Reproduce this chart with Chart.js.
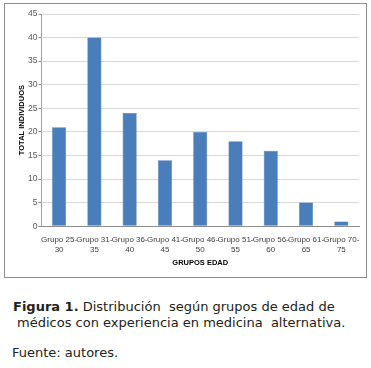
<!DOCTYPE html>
<html>
<head>
<meta charset="utf-8">
<script src="https://cdn.jsdelivr.net/npm/chart.js@4/dist/chart.umd.min.js"></script>
<style>
  body { margin: 0; background: #fff; width: 371px; height: 368px; position: relative; overflow: hidden; }
  #caja { position: absolute; left: 4px; top: 3px; width: 361px; height: 273px; border: 1px solid #8c8c8c; }
  .pie { position: absolute; font-family: "DejaVu Sans", Verdana, sans-serif; font-size: 13px; line-height: 15px; color: #222; white-space: nowrap; }
</style>
</head>
<body>
<div id="caja"><canvas id="graficoEdad"></canvas></div>
<div class="pie" style="left:13px; top:299px;"><b>Figura 1.</b> Distribución&nbsp; según grupos de edad de</div>
<div class="pie" style="left:17px; top:315px;">médicos con experiencia en medicina&nbsp; alternativa.</div>
<div class="pie" style="left:12px; top:345px;">Fuente: autores.</div>
<script>
// Datos del grafico
const grupos = [
  ['Grupo 25-', '30'], ['Grupo 31-', '35'], ['Grupo 36-', '40'],
  ['Grupo 41-', '45'], ['Grupo 46-', '50'], ['Grupo 51-', '55'],
  ['Grupo 56-', '60'], ['Grupo 61-', '65'], ['Grupo 70-', '75']
];
const totalIndividuos = [21, 40, 24, 14, 20, 18, 16, 5, 1];
const tituloX = 'GRUPOS EDAD';
const tituloY = 'TOTAL INDIVIDUOS';

const fuente = '"Liberation Sans", Arial, sans-serif';

const ctx = document.getElementById('graficoEdad').getContext('2d');
new Chart(ctx, {
  type: 'bar',
  data: {
    labels: grupos,
    datasets: [{
      label: tituloY,
      data: totalIndividuos,
      backgroundColor: '#4a7ebb',
      borderColor: '#3f6fa8',
      borderWidth: 0.5,
      categoryPercentage: 1,
      barPercentage: 0.4
    }]
  },
  options: {
    responsive: true,
    maintainAspectRatio: false,
    animation: false,
    layout: { padding: { top: 10, right: 7, left: 11, bottom: 6 } },
    plugins: { legend: { display: false }, tooltip: { enabled: false } },
    scales: {
      y: {
        min: 0,
        max: 45,
        ticks: { stepSize: 5, color: '#595959', font: { family: fuente, size: 8.5 }, padding: 1 },
        grid: { color: '#d9d9d9', tickLength: 3, tickColor: '#8c8c8c' },
        border: { color: '#a6a6a6' },
        title: { display: true, text: tituloY, color: '#000', font: { family: fuente, size: 7.5, weight: 'bold' }, padding: 1 }
      },
      x: {
        ticks: { color: '#404040', font: { family: fuente, size: 8, lineHeight: 1.3 }, maxRotation: 0, autoSkip: false, padding: 0 },
        grid: { display: false },
        border: { color: '#8c8c8c' },
        title: { display: true, text: tituloX, color: '#000', font: { family: fuente, size: 7.5, weight: 'bold' }, padding: { top: 3 } }
      }
    }
  }
});
</script>
</body>
</html>
